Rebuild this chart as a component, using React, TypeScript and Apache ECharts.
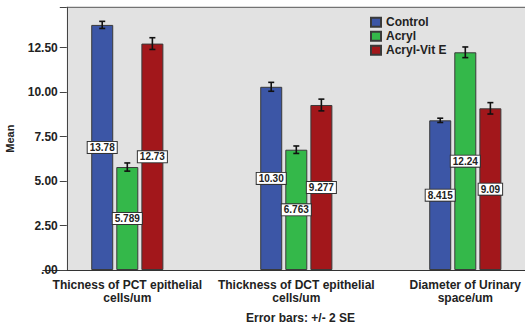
import React, { useEffect, useRef } from "react";
import * as echarts from "echarts";

const categories = [
  "Thicness of PCT epithelial\ncells/um",
  "Thickness of DCT epithelial\ncells/um",
  "Diameter of Urinary\nspace/um",
];
const seriesNames = ["Control", "Acryl", "Acryl-Vit E"];
const controlValues = [13.78, 10.3, 8.415];
const acrylValues = [5.789, 6.763, 12.24];
const acrylVitEValues = [12.73, 9.277, 9.09];
const controlLabels = ["13.78", "10.30", "8.415"];
const acrylLabels = ["5.789", "6.763", "12.24"];
const acrylVitELabels = ["12.73", "9.277", "9.09"];
// error bar half-widths (2 SE)
const controlErr = [0.2, 0.25, 0.12];
const acrylErr = [0.23, 0.21, 0.3];
const acrylVitEErr = [0.33, 0.33, 0.32];
const yTicks = [0, 2.5, 5, 7.5, 10, 12.5];

const colors = ["#3c56a6", "#34b84a", "#a2171b"];
const FONT = "Liberation Sans, Arial, sans-serif";

export default function App() {
  const ref = useRef<HTMLDivElement>(null);
  useEffect(() => {
    document.body.style.margin = "0";
    const chart = echarts.init(ref.current!, null, { renderer: "svg" });
    const values = [controlValues, acrylValues, acrylVitEValues];
    const labels = [controlLabels, acrylLabels, acrylVitELabels];
    const errs = [controlErr, acrylErr, acrylVitEErr];
    const barWidth = 22;
    const gapPct = 14;
    const step = barWidth * (1 + gapPct / 100);
    const offsets = [-step, 0, step];

    const barSeries = seriesNames.map((name, i) => ({
      name,
      type: "bar",
      data: values[i],
      barWidth,
      barGap: gapPct + "%",
      itemStyle: { color: colors[i], borderColor: "#3a3a3a", borderWidth: 1 },
      label: {
        show: true,
        position: "inside",
        formatter: (p: any) => labels[i][p.dataIndex],
        backgroundColor: "#ffffff",
        borderColor: "#333",
        borderWidth: 1,
        padding: [1, 2, 0, 2],
        color: "#222",
        fontFamily: FONT,
        fontWeight: "bold",
        fontSize: 10,
      },
      z: 2,
    }));

    const errSeries = seriesNames.map((name, i) => ({
      name: "err-" + name,
      type: "custom",
      data: values[i].map((v, k) => [k, v - errs[i][k], v + errs[i][k]]),
      renderItem: (params: any, api: any) => {
        const idx = api.value(0);
        const lo = api.coord([idx, api.value(1)]);
        const hi = api.coord([idx, api.value(2)]);
        const x = lo[0] + offsets[i];
        const cap = 3;
        const st = { stroke: "#111", lineWidth: 1.6 };
        return {
          type: "group",
          children: [
            { type: "line", shape: { x1: x, y1: lo[1], x2: x, y2: hi[1] }, style: st },
            { type: "line", shape: { x1: x - cap, y1: lo[1], x2: x + cap, y2: lo[1] }, style: st },
            { type: "line", shape: { x1: x - cap, y1: hi[1], x2: x + cap, y2: hi[1] }, style: st },
          ],
        };
      },
      z: 5,
    }));

    chart.setOption({
      animation: false,
      textStyle: { fontFamily: FONT },
      grid: {
        left: 42.8,
        right: -24.8,
        top: 7.3,
        bottom: 59,
        containLabel: false,
        outerBoundsMode: "none",
      },
      graphic: [
        {
          type: "rect",
          shape: { x: 66.7, y: 7.3, width: 470, height: 262.7 },
          style: { fill: "#e2e2e2" },
          z: -10,
        },
        {
          type: "line",
          shape: { x1: 66.7, y1: 7.3, x2: 525, y2: 7.3 },
          style: { stroke: "#555", lineWidth: 1 },
          z: -5,
        },
        {
          type: "text",
          x: 300.5,
          y: 317.7,
          style: {
            text: "Error bars: +/- 2 SE",
            fontFamily: FONT,
            fontWeight: "bold",
            fontSize: 12,
            fill: "#222",
            align: "center",
            verticalAlign: "middle",
          },
        },
      ],
      legend: {
        orient: "vertical",
        left: 370,
        top: 15.3,
        z: 20,
        padding: 0,
        data: seriesNames,
        icon: "rect",
        itemWidth: 10,
        itemHeight: 9,
        itemGap: 0,
        textStyle: {
          fontFamily: FONT,
          fontWeight: "bold",
          fontSize: 12,
          color: "#222",
          lineHeight: 14,
        },
      },
      xAxis: {
        type: "category",
        data: categories,
        axisLine: { lineStyle: { color: "#333", width: 1 } },
        axisTick: { alignWithLabel: true, length: 5, lineStyle: { color: "#333" } },
        axisLabel: {
          interval: 0,
          margin: 8,
          fontFamily: FONT,
          fontWeight: "bold",
          fontSize: 12,
          lineHeight: 13,
          color: "#222",
        },
      },
      yAxis: {
        type: "value",
        min: 0,
        max: 14.77,
        interval: 2.5,
        offset: -24,
        name: "Mean",
        nameLocation: "middle",
        nameRotate: 90,
        nameGap: 51,
        nameTextStyle: { fontFamily: FONT, fontWeight: "bold", fontSize: 11, color: "#222" },
        splitLine: { show: false },
        axisLine: { show: true, lineStyle: { color: "#444", width: 1 } },
        axisTick: { show: true, length: 7, lineStyle: { color: "#444" } },
        axisLabel: {
          margin: 9,
          fontFamily: FONT,
          fontWeight: "bold",
          fontSize: 12,
          color: "#222",
          formatter: (v: number) => {
            if (!yTicks.some((t) => Math.abs(t - v) < 1e-6)) return "";
            return v === 0 ? ".00" : v.toFixed(2);
          },
        },
      },
      series: [...barSeries, ...errSeries],
    });
    return () => chart.dispose();
  }, []);
  return <div ref={ref} style={{ width: 525, height: 329 }} />;
}
